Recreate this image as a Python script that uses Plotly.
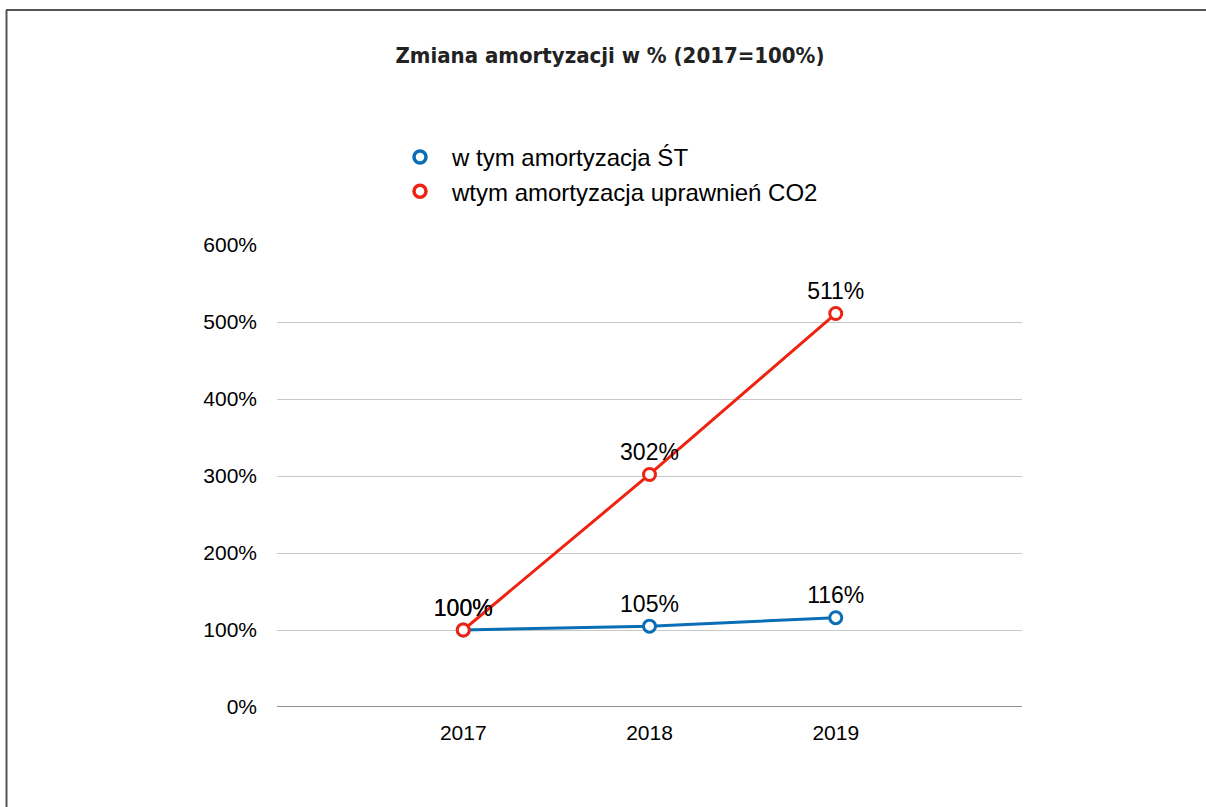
import plotly.graph_objects as go

years = ["2017", "2018", "2019"]
st_values = [100, 105, 116]
co2_values = [100, 302, 511]
series_names = ["w tym amortyzacja ŚT", "wtym amortyzacja uprawnień CO2"]
y_ticks = [0, 100, 200, 300, 400, 500, 600]
title_text = "Zmiana amortyzacji w % (2017=100%)"

W, H = 1206, 807
ML, MR, MT, MB = 277, 184, 245, 100

BLUE = "#0A6EB6"
RED = "#EF2311"
FONT = "Liberation Sans, Arial, sans-serif"

fig = go.Figure()
for name, vals, col in [(series_names[0], st_values, BLUE), (series_names[1], co2_values, RED)]:
    fig.add_trace(go.Scatter(
        x=list(range(len(years))), y=vals, name=name, showlegend=False,
        mode="lines+markers+text",
        text=[f"{v}%" for v in vals], textposition="top center",
        textfont=dict(family=FONT, size=23, color="#000"),
        line=dict(color=col, width=3),
        marker=dict(symbol="circle", size=12, color="white", line=dict(color=col, width=3)),
        cliponaxis=False,
    ))
    # legend entry (marker only, like the reference)
    fig.add_trace(go.Scatter(
        x=[None], y=[None], name=name, mode="markers",
        marker=dict(symbol="circle", size=12, color="white", line=dict(color=col, width=3.5)),
    ))

pw = W - ML - MR
ph = H - MT - MB
def px_x(p):
    return (p - ML) / pw
def px_y(p):
    return (H - MB - p) / ph

fig.update_layout(
    width=W, height=H,
    margin=dict(l=ML, r=MR, t=MT, b=MB, autoexpand=False),
    paper_bgcolor="white", plot_bgcolor="white",
    title=dict(text=title_text, x=610 / W, xref="container", xanchor="center",
               y=1 - 55 / H, yref="container", yanchor="middle",
               font=dict(family="DejaVu Sans Condensed, Liberation Sans Narrow, sans-serif",
                         size=22, color="#222", weight="bold")),
    legend=dict(xref="container", yref="container", x=388 / W, y=1 - 135 / H,
                xanchor="left", yanchor="top",
                font=dict(family=FONT, size=24, color="#000"),
                bgcolor="rgba(0,0,0,0)", tracegroupgap=0, itemwidth=54),
    showlegend=True,
    xaxis=dict(range=[-1, 3], tickmode="array", tickvals=list(range(len(years))), ticktext=years,
               showgrid=False, zeroline=False, showline=False, ticks="", tickangle=0,
               ticklabelstandoff=11,
               tickfont=dict(family=FONT, size=21, color="#000")),
    yaxis=dict(range=[0, 600], tickmode="array", tickvals=y_ticks, ticktext=[f"{v}%" for v in y_ticks],
               showgrid=True, gridcolor="#C8C8C8", gridwidth=1, zeroline=False, showline=False,
               ticks="", ticklabelstandoff=19,
               tickfont=dict(family=FONT, size=21, color="#000")),
    font=dict(family=FONT),
)

# baseline at 0%
fig.add_shape(type="line", xref="paper", yref="y", x0=0, x1=1, y0=0, y1=0,
              line=dict(color="#222", width=1), layer="above")
# outer frame (only left and top edges visible)
fig.add_shape(type="line", xref="paper", yref="paper", x0=px_x(6.5), x1=px_x(6.5), y0=px_y(10), y1=px_y(820),
              line=dict(color="#555", width=2))
fig.add_shape(type="line", xref="paper", yref="paper", x0=px_x(6), x1=px_x(1220), y0=px_y(10), y1=px_y(10),
              line=dict(color="#555", width=2))

fig.write_html("out.html", config={"displayModeBar": False},
               post_script="document.body.style.margin='0';")
